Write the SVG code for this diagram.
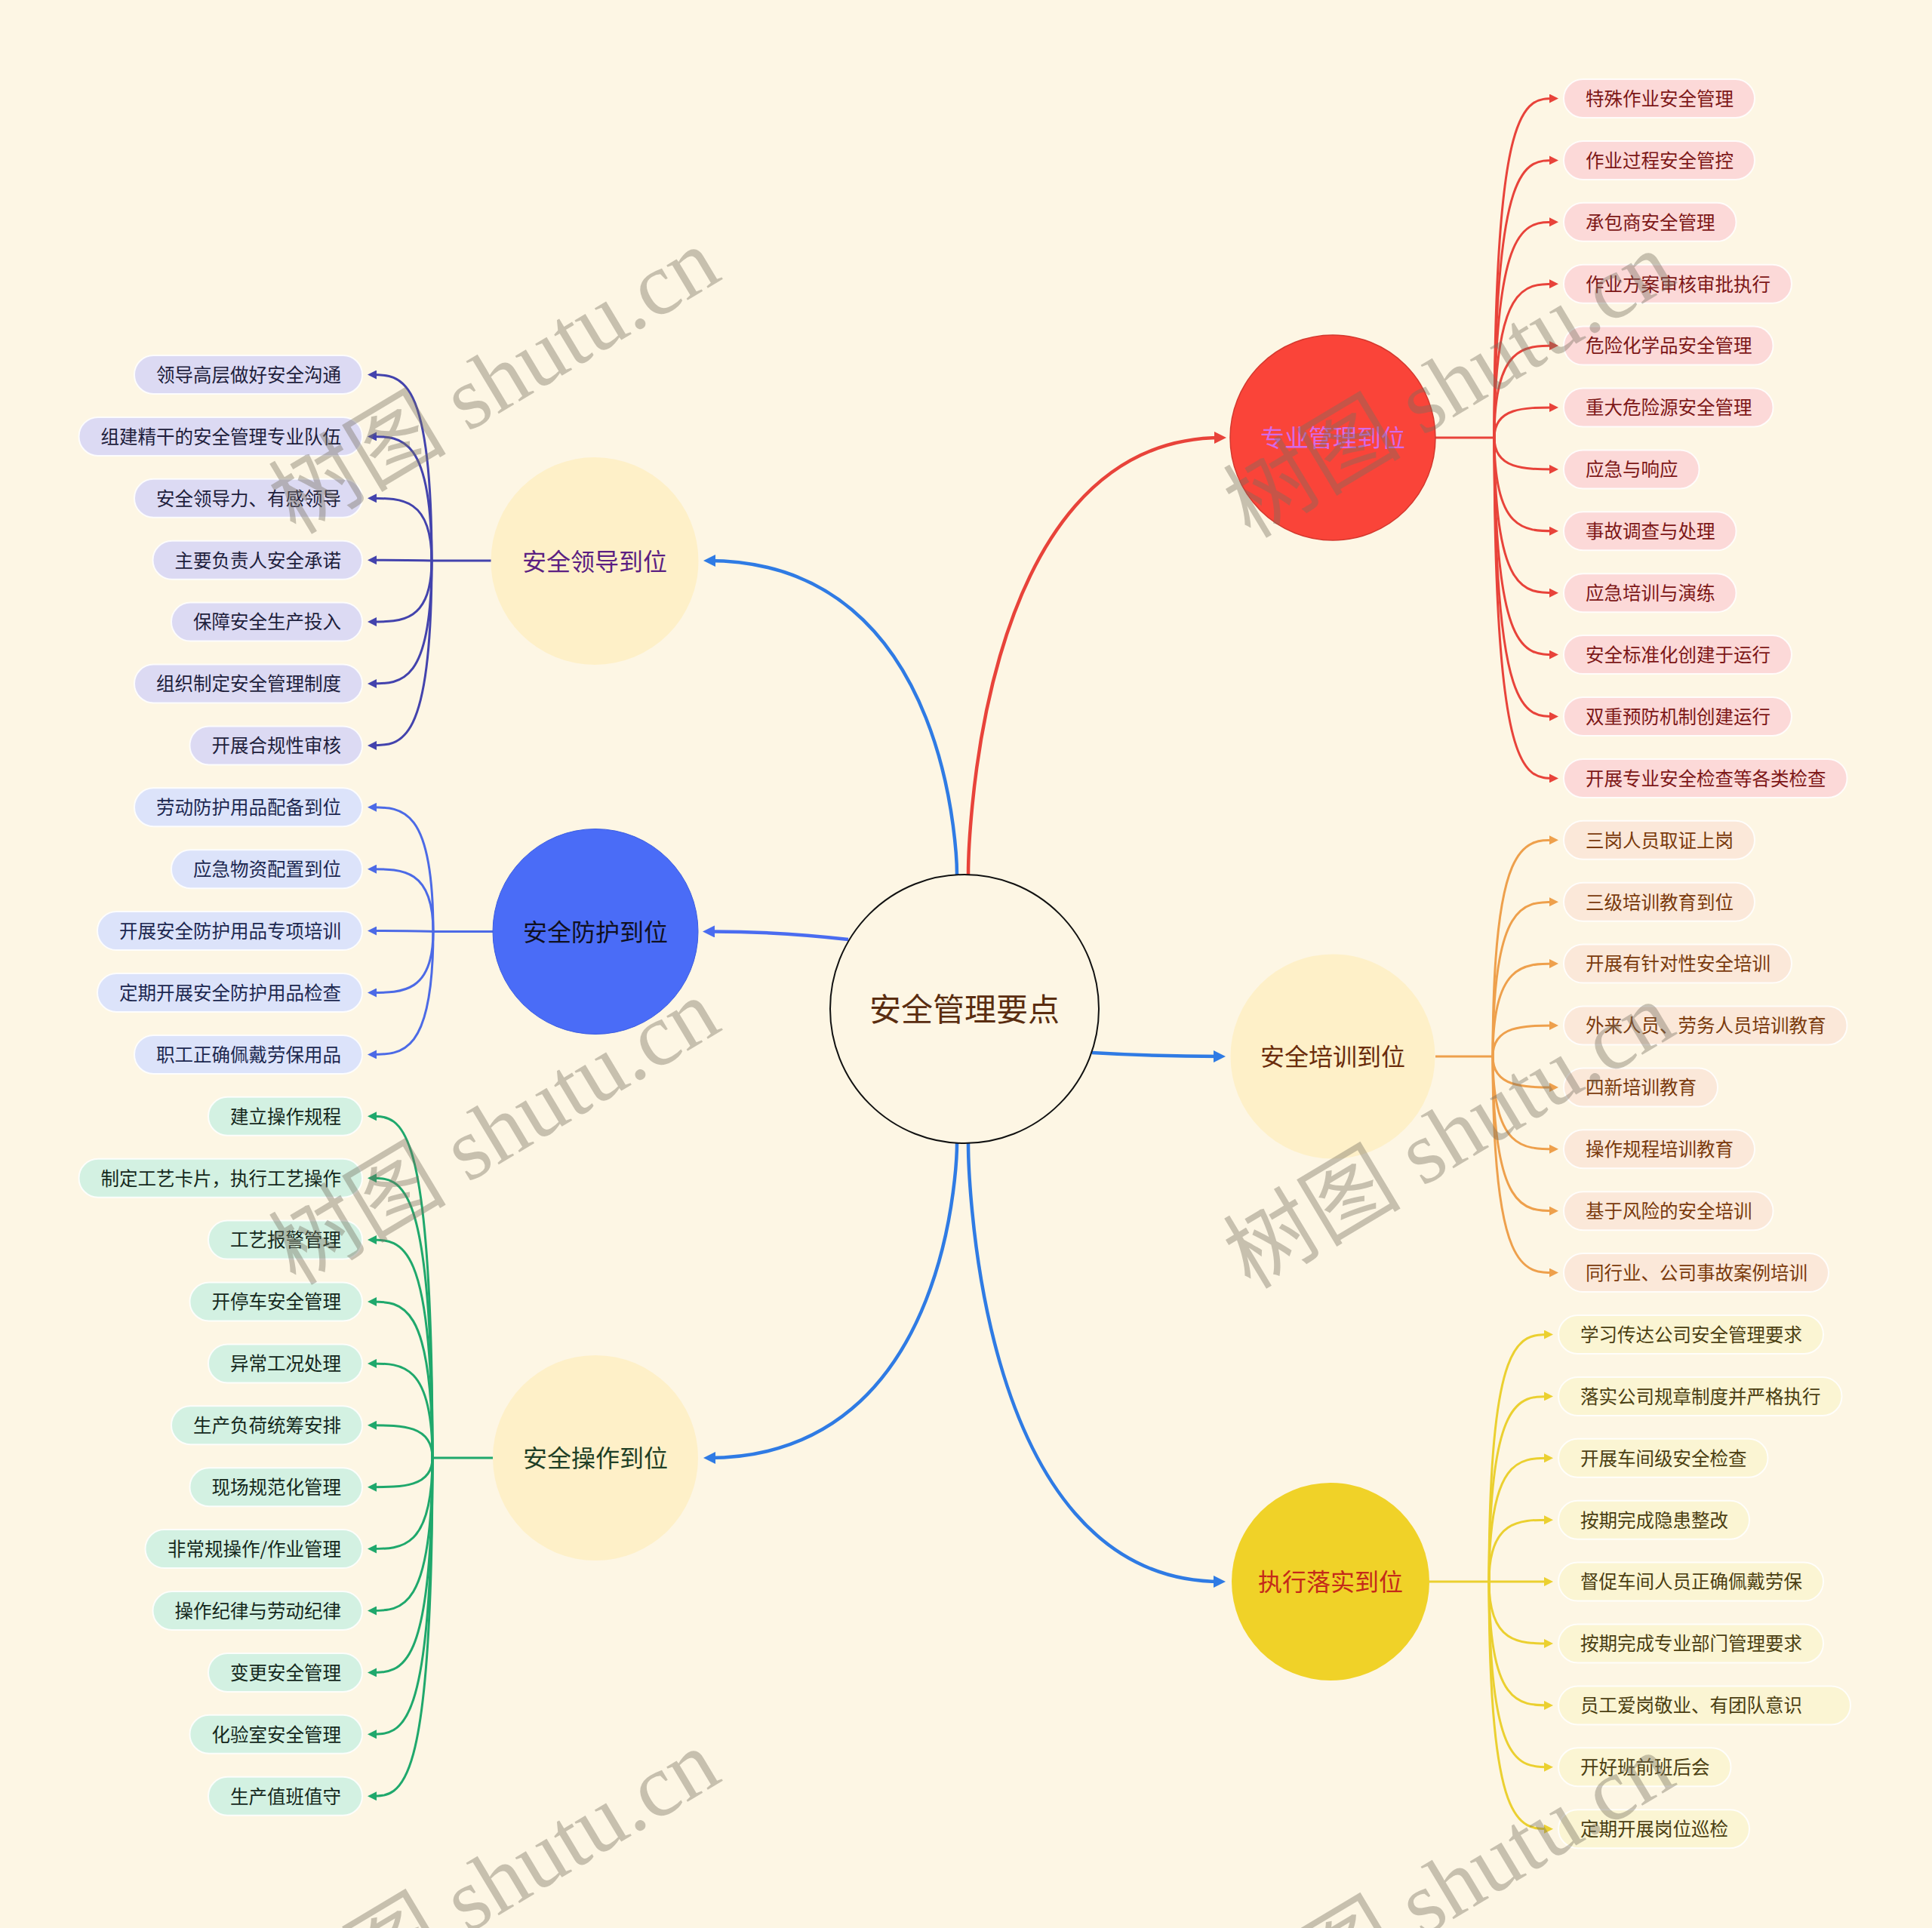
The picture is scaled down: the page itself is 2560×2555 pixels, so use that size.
<svg xmlns="http://www.w3.org/2000/svg" width="2560" height="2555" viewBox="0 0 2560 2555">
<defs>
<style>
text{font-family:"Noto Sans CJK SC","Noto Sans",sans-serif;}
.lt{font-size:24.5px}
.le{text-anchor:end}
.mt{font-size:32px;text-anchor:middle}
.pl{stroke:#ffffff;stroke-width:2;stroke-opacity:.85}
.c{fill:none}
.m{stroke-width:4.5}
.l{stroke-width:3}
.wm{font-family:"Liberation Serif","Noto Sans CJK SC",serif;font-size:118px;fill:#777060;opacity:.4;text-anchor:middle}
.pu rect{fill:#dcdaf3}.pu text{fill:#1e1e3c}
.bl rect{fill:#dce3fa}.bl text{fill:#1c2850}
.gr rect{fill:#d3f1e2}.gr text{fill:#14281c}
.rd rect{fill:#fcd9d8}.rd text{fill:#7d1717}
.or rect{fill:#fbe8d9}.or text{fill:#7a3a0c}
.ye rect{fill:#fbf5d3}.ye text{fill:#4b3f12}
</style>
<marker id="mB" markerUnits="userSpaceOnUse" viewBox="0 0 16 16" markerWidth="16" markerHeight="16" refX="10" refY="8" orient="auto"><path d="M0,0 L16,8 L0,16 z" fill="#2f7be4"/></marker>
<marker id="mB2" markerUnits="userSpaceOnUse" viewBox="0 0 16 16" markerWidth="16" markerHeight="16" refX="10" refY="8" orient="auto"><path d="M0,0 L16,8 L0,16 z" fill="#4a6cf0"/></marker>
<marker id="mR" markerUnits="userSpaceOnUse" viewBox="0 0 16 16" markerWidth="16" markerHeight="16" refX="10" refY="8" orient="auto"><path d="M0,0 L16,8 L0,16 z" fill="#e8433a"/></marker>
<marker id="aPu" markerUnits="userSpaceOnUse" viewBox="0 0 12 12" markerWidth="12" markerHeight="12" refX="7" refY="6" orient="auto"><path d="M0,0 L12,6 L0,12 z" fill="#4343ad"/></marker>
<marker id="aBl" markerUnits="userSpaceOnUse" viewBox="0 0 12 12" markerWidth="12" markerHeight="12" refX="7" refY="6" orient="auto"><path d="M0,0 L12,6 L0,12 z" fill="#4c6ae6"/></marker>
<marker id="aGr" markerUnits="userSpaceOnUse" viewBox="0 0 12 12" markerWidth="12" markerHeight="12" refX="7" refY="6" orient="auto"><path d="M0,0 L12,6 L0,12 z" fill="#1fa86c"/></marker>
<marker id="aRd" markerUnits="userSpaceOnUse" viewBox="0 0 12 12" markerWidth="12" markerHeight="12" refX="7" refY="6" orient="auto"><path d="M0,0 L12,6 L0,12 z" fill="#e8433a"/></marker>
<marker id="aOr" markerUnits="userSpaceOnUse" viewBox="0 0 12 12" markerWidth="12" markerHeight="12" refX="7" refY="6" orient="auto"><path d="M0,0 L12,6 L0,12 z" fill="#eea04c"/></marker>
<marker id="aYe" markerUnits="userSpaceOnUse" viewBox="0 0 12 12" markerWidth="12" markerHeight="12" refX="7" refY="6" orient="auto"><path d="M0,0 L12,6 L0,12 z" fill="#ebd030"/></marker>
</defs>
<rect width="2560" height="2555" fill="#fdf6e4"/>

<g id="connectors" class="c">
  <g class="m">
    <path d="M1268 1159 C1268 1159 1268 743 938 743" stroke="#2f7be4" marker-end="url(#mB)"/>
    <path d="M1283 1159 C1283 1159 1283 580 1619 580" stroke="#e8433a" marker-end="url(#mR)"/>
    <path d="M1124 1245 Q1030 1234 937 1234.5" stroke="#4a6cf0" marker-end="url(#mB2)"/>
    <path d="M1447 1395 Q1530 1400 1618 1400" stroke="#2f7be4" marker-end="url(#mB)"/>
    <path d="M1268 1515 C1268 1515 1268 1932 938 1932" stroke="#2f7be4" marker-end="url(#mB)"/>
    <path d="M1283 1515 C1283 1515 1283 2096 1618 2096" stroke="#2f7be4" marker-end="url(#mB)"/>
  </g>
  <g class="l" stroke="#4343ad">
    <path d="M651 743 H572"/>
    <path d="M572 743 C572 496.5 532 496.5 492 496.5" marker-end="url(#aPu)"/>
    <path d="M572 743 C572 578.4 532 578.4 492 578.4" marker-end="url(#aPu)"/>
    <path d="M572 743 C572 660.3 532 660.3 492 660.3" marker-end="url(#aPu)"/>
    <path d="M572 743 C552 742.2 532 742.2 492 742.2" marker-end="url(#aPu)"/>
    <path d="M572 743 C572 824.1 532 824.1 492 824.1" marker-end="url(#aPu)"/>
    <path d="M572 743 C572 906 532 906 492 906" marker-end="url(#aPu)"/>
    <path d="M572 743 C572 987.9 532 987.9 492 987.9" marker-end="url(#aPu)"/>
  </g>
  <g class="l" stroke="#4c6ae6">
    <path d="M653 1234.5 H574"/>
    <path d="M574 1234.5 C574 1069.8 533 1069.8 492 1069.8" marker-end="url(#aBl)"/>
    <path d="M574 1234.5 C574 1151.7 533 1151.7 492 1151.7" marker-end="url(#aBl)"/>
    <path d="M574 1234.5 C553 1233.6 533 1233.6 492 1233.6" marker-end="url(#aBl)"/>
    <path d="M574 1234.5 C574 1315.5 533 1315.5 492 1315.5" marker-end="url(#aBl)"/>
    <path d="M574 1234.5 C574 1397.4 533 1397.4 492 1397.4" marker-end="url(#aBl)"/>
  </g>
  <g class="l" stroke="#1fa86c">
    <path d="M653 1932 H573"/>
    <path d="M573 1932 C573 1479.3 532.5 1479.3 492 1479.3" marker-end="url(#aGr)"/>
    <path d="M573 1932 C573 1561.2 532.5 1561.2 492 1561.2" marker-end="url(#aGr)"/>
    <path d="M573 1932 C573 1643.1 532.5 1643.1 492 1643.1" marker-end="url(#aGr)"/>
    <path d="M573 1932 C573 1725 532.5 1725 492 1725" marker-end="url(#aGr)"/>
    <path d="M573 1932 C573 1806.9 532.5 1806.9 492 1806.9" marker-end="url(#aGr)"/>
    <path d="M573 1932 C573 1888.8 532.5 1888.8 492 1888.8" marker-end="url(#aGr)"/>
    <path d="M573 1932 C573 1970.7 532.5 1970.7 492 1970.7" marker-end="url(#aGr)"/>
    <path d="M573 1932 C573 2052.6 532.5 2052.6 492 2052.6" marker-end="url(#aGr)"/>
    <path d="M573 1932 C573 2134.5 532.5 2134.5 492 2134.5" marker-end="url(#aGr)"/>
    <path d="M573 1932 C573 2216.4 532.5 2216.4 492 2216.4" marker-end="url(#aGr)"/>
    <path d="M573 1932 C573 2298.3 532.5 2298.3 492 2298.3" marker-end="url(#aGr)"/>
    <path d="M573 1932 C573 2380.2 532.5 2380.2 492 2380.2" marker-end="url(#aGr)"/>
  </g>
  <g class="l" stroke="#e8433a">
    <path d="M1902 580 H1980"/>
    <path d="M1980 580 C1980 130.5 2020 130.5 2060 130.5" marker-end="url(#aRd)"/>
    <path d="M1980 580 C1980 212.4 2020 212.4 2060 212.4" marker-end="url(#aRd)"/>
    <path d="M1980 580 C1980 294.3 2020 294.3 2060 294.3" marker-end="url(#aRd)"/>
    <path d="M1980 580 C1980 376.2 2020 376.2 2060 376.2" marker-end="url(#aRd)"/>
    <path d="M1980 580 C1980 458.1 2020 458.1 2060 458.1" marker-end="url(#aRd)"/>
    <path d="M1980 580 C1980 540 2020 540 2060 540" marker-end="url(#aRd)"/>
    <path d="M1980 580 C1980 621.9 2020 621.9 2060 621.9" marker-end="url(#aRd)"/>
    <path d="M1980 580 C1980 703.8 2020 703.8 2060 703.8" marker-end="url(#aRd)"/>
    <path d="M1980 580 C1980 785.7 2020 785.7 2060 785.7" marker-end="url(#aRd)"/>
    <path d="M1980 580 C1980 867.6 2020 867.6 2060 867.6" marker-end="url(#aRd)"/>
    <path d="M1980 580 C1980 949.5 2020 949.5 2060 949.5" marker-end="url(#aRd)"/>
    <path d="M1980 580 C1980 1031.4 2020 1031.4 2060 1031.4" marker-end="url(#aRd)"/>
  </g>
  <g class="l" stroke="#eea04c">
    <path d="M1902 1400 H1978"/>
    <path d="M1978 1400 C1978 1113.3 2019 1113.3 2060 1113.3" marker-end="url(#aOr)"/>
    <path d="M1978 1400 C1978 1195.2 2019 1195.2 2060 1195.2" marker-end="url(#aOr)"/>
    <path d="M1978 1400 C1978 1277.1 2019 1277.1 2060 1277.1" marker-end="url(#aOr)"/>
    <path d="M1978 1400 C1978 1359 2019 1359 2060 1359" marker-end="url(#aOr)"/>
    <path d="M1978 1400 C1978 1440.9 2019 1440.9 2060 1440.9" marker-end="url(#aOr)"/>
    <path d="M1978 1400 C1978 1522.8 2019 1522.8 2060 1522.8" marker-end="url(#aOr)"/>
    <path d="M1978 1400 C1978 1604.7 2019 1604.7 2060 1604.7" marker-end="url(#aOr)"/>
    <path d="M1978 1400 C1978 1686.6 2019 1686.6 2060 1686.6" marker-end="url(#aOr)"/>
  </g>
  <g class="l" stroke="#ebd030">
    <path d="M1894 2096 H1973"/>
    <path d="M1973 2096 C1973 1768.5 2013 1768.5 2053 1768.5" marker-end="url(#aYe)"/>
    <path d="M1973 2096 C1973 1850.4 2013 1850.4 2053 1850.4" marker-end="url(#aYe)"/>
    <path d="M1973 2096 C1973 1932.3 2013 1932.3 2053 1932.3" marker-end="url(#aYe)"/>
    <path d="M1973 2096 C1973 2014.2 2013 2014.2 2053 2014.2" marker-end="url(#aYe)"/>
    <path d="M1973 2096 C1993 2096.1 2013 2096.1 2053 2096.1" marker-end="url(#aYe)"/>
    <path d="M1973 2096 C1973 2178 2013 2178 2053 2178" marker-end="url(#aYe)"/>
    <path d="M1973 2096 C1973 2259.9 2013 2259.9 2053 2259.9" marker-end="url(#aYe)"/>
    <path d="M1973 2096 C1973 2341.8 2013 2341.8 2053 2341.8" marker-end="url(#aYe)"/>
    <path d="M1973 2096 C1973 2423.7 2013 2423.7 2053 2423.7" marker-end="url(#aYe)"/>
  </g>
</g>

<g id="root">
  <circle cx="1278" cy="1337" r="178" fill="#fdf6e4" stroke="#111" stroke-width="2"/>
  <text x="1278" y="1353" style="font-size:42px;text-anchor:middle" fill="#5a2d10">安全管理要点</text>
</g>

<g id="n-zhuanye"><circle cx="1766" cy="580" r="136" fill="#fa4439" stroke="#d4382e" stroke-width="1.5"/><text class="mt" x="1766" y="592" fill="#d46ae8">专业管理到位</text></g>
<g id="n-lingdao"><circle cx="788" cy="743.5" r="137.5" fill="#fef0c8"/><text class="mt" x="788" y="755.5" fill="#5b1f82">安全领导到位</text></g>
<g id="n-fanghu"><circle cx="789" cy="1234.5" r="136" fill="#4a6cf7" stroke="#3b5de0" stroke-width="1"/><text class="mt" x="789" y="1246.5" fill="#101020">安全防护到位</text></g>
<g id="n-caozuo"><circle cx="789" cy="1932" r="136" fill="#fef0c8"/><text class="mt" x="789" y="1944" fill="#1f3f26">安全操作到位</text></g>
<g id="n-peixun"><circle cx="1766" cy="1400" r="135.5" fill="#fef0c8"/><text class="mt" x="1766" y="1412" fill="#6a2c0c">安全培训到位</text></g>
<g id="n-zhixing"><circle cx="1763" cy="2096" r="131" fill="#f0d228"/><text class="mt" x="1763" y="2108" fill="#c42a1a">执行落实到位</text></g>

<g class="pu lt">
  <g id="l0"><rect class="pl" x="178" y="471" width="302" height="51" rx="25.5"/><text class="le" x="452" y="505.8">领导高层做好安全沟通</text></g>
  <g id="l1"><rect class="pl" x="104.5" y="552.9" width="375.5" height="51" rx="25.5"/><text class="le" x="452" y="587.7">组建精干的安全管理专业队伍</text></g>
  <g id="l2"><rect class="pl" x="178" y="634.8" width="302" height="51" rx="25.5"/><text class="le" x="452" y="669.6">安全领导力、有感领导</text></g>
  <g id="l3"><rect class="pl" x="202.5" y="716.7" width="277.5" height="51" rx="25.5"/><text class="le" x="452" y="751.5">主要负责人安全承诺</text></g>
  <g id="l4"><rect class="pl" x="227" y="798.6" width="253" height="51" rx="25.5"/><text class="le" x="452" y="833.4">保障安全生产投入</text></g>
  <g id="l5"><rect class="pl" x="178" y="880.5" width="302" height="51" rx="25.5"/><text class="le" x="452" y="915.3">组织制定安全管理制度</text></g>
  <g id="l6"><rect class="pl" x="251.5" y="962.4" width="228.5" height="51" rx="25.5"/><text class="le" x="452" y="997.2">开展合规性审核</text></g>
</g>
<g class="bl lt">
  <g id="l7"><rect class="pl" x="178" y="1044.3" width="302" height="51" rx="25.5"/><text class="le" x="452" y="1079.1">劳动防护用品配备到位</text></g>
  <g id="l8"><rect class="pl" x="227" y="1126.2" width="253" height="51" rx="25.5"/><text class="le" x="452" y="1161">应急物资配置到位</text></g>
  <g id="l9"><rect class="pl" x="129" y="1208.1" width="351" height="51" rx="25.5"/><text class="le" x="452" y="1242.9">开展安全防护用品专项培训</text></g>
  <g id="l10"><rect class="pl" x="129" y="1290" width="351" height="51" rx="25.5"/><text class="le" x="452" y="1324.8">定期开展安全防护用品检查</text></g>
  <g id="l11"><rect class="pl" x="178" y="1371.9" width="302" height="51" rx="25.5"/><text class="le" x="452" y="1406.7">职工正确佩戴劳保用品</text></g>
</g>
<g class="gr lt">
  <g id="l12"><rect class="pl" x="276" y="1453.8" width="204" height="51" rx="25.5"/><text class="le" x="452" y="1488.6">建立操作规程</text></g>
  <g id="l13"><rect class="pl" x="104.5" y="1535.7" width="375.5" height="51" rx="25.5"/><text class="le" x="452" y="1570.5">制定工艺卡片，执行工艺操作</text></g>
  <g id="l14"><rect class="pl" x="276" y="1617.6" width="204" height="51" rx="25.5"/><text class="le" x="452" y="1652.4">工艺报警管理</text></g>
  <g id="l15"><rect class="pl" x="251.5" y="1699.5" width="228.5" height="51" rx="25.5"/><text class="le" x="452" y="1734.3">开停车安全管理</text></g>
  <g id="l16"><rect class="pl" x="276" y="1781.4" width="204" height="51" rx="25.5"/><text class="le" x="452" y="1816.2">异常工况处理</text></g>
  <g id="l17"><rect class="pl" x="227" y="1863.3" width="253" height="51" rx="25.5"/><text class="le" x="452" y="1898.1">生产负荷统筹安排</text></g>
  <g id="l18"><rect class="pl" x="251.5" y="1945.2" width="228.5" height="51" rx="25.5"/><text class="le" x="452" y="1980">现场规范化管理</text></g>
  <g id="l19"><rect class="pl" x="192.5" y="2027.1" width="287.5" height="51" rx="25.5"/><text class="le" x="452" y="2061.9">非常规操作/作业管理</text></g>
  <g id="l20"><rect class="pl" x="202.5" y="2109" width="277.5" height="51" rx="25.5"/><text class="le" x="452" y="2143.8">操作纪律与劳动纪律</text></g>
  <g id="l21"><rect class="pl" x="276" y="2190.9" width="204" height="51" rx="25.5"/><text class="le" x="452" y="2225.7">变更安全管理</text></g>
  <g id="l22"><rect class="pl" x="251.5" y="2272.8" width="228.5" height="51" rx="25.5"/><text class="le" x="452" y="2307.6">化验室安全管理</text></g>
  <g id="l23"><rect class="pl" x="276" y="2354.7" width="204" height="51" rx="25.5"/><text class="le" x="452" y="2389.5">生产值班值守</text></g>
</g>

<g class="rd lt">
  <g id="r0"><rect class="pl" x="2072" y="105" width="253" height="51" rx="25.5"/><text x="2101" y="139.8">特殊作业安全管理</text></g>
  <g id="r1"><rect class="pl" x="2072" y="186.9" width="253" height="51" rx="25.5"/><text x="2101" y="221.7">作业过程安全管控</text></g>
  <g id="r2"><rect class="pl" x="2072" y="268.8" width="228.5" height="51" rx="25.5"/><text x="2101" y="303.6">承包商安全管理</text></g>
  <g id="r3"><rect class="pl" x="2072" y="350.7" width="302" height="51" rx="25.5"/><text x="2101" y="385.5">作业方案审核审批执行</text></g>
  <g id="r4"><rect class="pl" x="2072" y="432.6" width="277.5" height="51" rx="25.5"/><text x="2101" y="467.4">危险化学品安全管理</text></g>
  <g id="r5"><rect class="pl" x="2072" y="514.5" width="277.5" height="51" rx="25.5"/><text x="2101" y="549.3">重大危险源安全管理</text></g>
  <g id="r6"><rect class="pl" x="2072" y="596.4" width="179.5" height="51" rx="25.5"/><text x="2101" y="631.2">应急与响应</text></g>
  <g id="r7"><rect class="pl" x="2072" y="678.3" width="228.5" height="51" rx="25.5"/><text x="2101" y="713.1">事故调查与处理</text></g>
  <g id="r8"><rect class="pl" x="2072" y="760.2" width="228.5" height="51" rx="25.5"/><text x="2101" y="795">应急培训与演练</text></g>
  <g id="r9"><rect class="pl" x="2072" y="842.1" width="302" height="51" rx="25.5"/><text x="2101" y="876.9">安全标准化创建于运行</text></g>
  <g id="r10"><rect class="pl" x="2072" y="924" width="302" height="51" rx="25.5"/><text x="2101" y="958.8">双重预防机制创建运行</text></g>
  <g id="r11"><rect class="pl" x="2072" y="1005.9" width="375.5" height="51" rx="25.5"/><text x="2101" y="1040.7">开展专业安全检查等各类检查</text></g>
</g>
<g class="or lt">
  <g id="r12"><rect class="pl" x="2072" y="1087.8" width="253" height="51" rx="25.5"/><text x="2101" y="1122.6">三岗人员取证上岗</text></g>
  <g id="r13"><rect class="pl" x="2072" y="1169.7" width="253" height="51" rx="25.5"/><text x="2101" y="1204.5">三级培训教育到位</text></g>
  <g id="r14"><rect class="pl" x="2072" y="1251.6" width="302" height="51" rx="25.5"/><text x="2101" y="1286.4">开展有针对性安全培训</text></g>
  <g id="r15"><rect class="pl" x="2072" y="1333.5" width="375.5" height="51" rx="25.5"/><text x="2101" y="1368.3">外来人员、劳务人员培训教育</text></g>
  <g id="r16"><rect class="pl" x="2072" y="1415.4" width="204" height="51" rx="25.5"/><text x="2101" y="1450.2">四新培训教育</text></g>
  <g id="r17"><rect class="pl" x="2072" y="1497.3" width="253" height="51" rx="25.5"/><text x="2101" y="1532.1">操作规程培训教育</text></g>
  <g id="r18"><rect class="pl" x="2072" y="1579.2" width="277.5" height="51" rx="25.5"/><text x="2101" y="1614">基于风险的安全培训</text></g>
  <g id="r19"><rect class="pl" x="2072" y="1661.1" width="351" height="51" rx="25.5"/><text x="2101" y="1695.9">同行业、公司事故案例培训</text></g>
</g>
<g class="ye lt">
  <g id="r20"><rect class="pl" x="2065" y="1743" width="351" height="51" rx="25.5"/><text x="2094" y="1777.8">学习传达公司安全管理要求</text></g>
  <g id="r21"><rect class="pl" x="2065" y="1824.9" width="375.5" height="51" rx="25.5"/><text x="2094" y="1859.7">落实公司规章制度并严格执行</text></g>
  <g id="r22"><rect class="pl" x="2065" y="1906.8" width="277.5" height="51" rx="25.5"/><text x="2094" y="1941.6">开展车间级安全检查</text></g>
  <g id="r23"><rect class="pl" x="2065" y="1988.7" width="253" height="51" rx="25.5"/><text x="2094" y="2023.5">按期完成隐患整改</text></g>
  <g id="r24"><rect class="pl" x="2065" y="2070.6" width="351" height="51" rx="25.5"/><text x="2094" y="2105.4">督促车间人员正确佩戴劳保</text></g>
  <g id="r25"><rect class="pl" x="2065" y="2152.5" width="351" height="51" rx="25.5"/><text x="2094" y="2187.3">按期完成专业部门管理要求</text></g>
  <g id="r26"><rect class="pl" x="2065" y="2234.4" width="387" height="51" rx="25.5"/><text x="2094" y="2269.2">员工爱岗敬业、有团队意识</text></g>
  <g id="r27"><rect class="pl" x="2065" y="2316.3" width="228.5" height="51" rx="25.5"/><text x="2094" y="2351.1">开好班前班后会</text></g>
  <g id="r28"><rect class="pl" x="2065" y="2398.2" width="253" height="51" rx="25.5"/><text x="2094" y="2433">定期开展岗位巡检</text></g>
</g>

<g id="watermarks">
  <text class="wm" transform="translate(655 505) rotate(-31)" y="40">树图 shutu.cn</text>
  <text class="wm" transform="translate(655 1500) rotate(-31)" y="40">树图 shutu.cn</text>
  <text class="wm" transform="translate(655 2495) rotate(-31)" y="40">树图 shutu.cn</text>
  <text class="wm" transform="translate(1920 510) rotate(-31)" y="40">树图 shutu.cn</text>
  <text class="wm" transform="translate(1920 1505) rotate(-31)" y="40">树图 shutu.cn</text>
  <text class="wm" transform="translate(1920 2500) rotate(-31)" y="40">树图 shutu.cn</text>
</g>
</svg>
